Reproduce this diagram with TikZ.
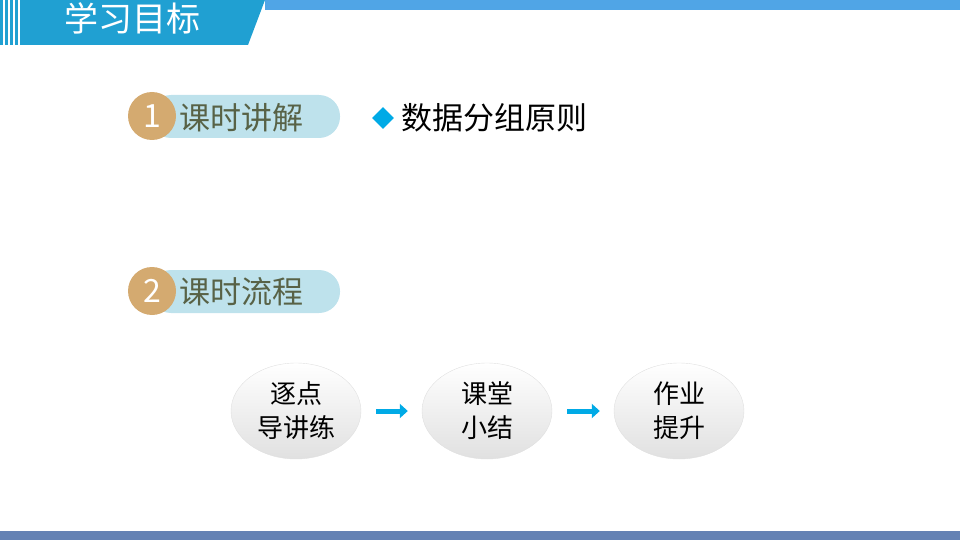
\documentclass[tikz,border=0pt]{standalone}
\usepackage{fontspec}
\setmainfont{Noto Sans CJK SC}
\usetikzlibrary{arrows.meta,shapes.geometric}
\definecolor{headblue}{RGB}{32,160,210}
\definecolor{bandblue}{RGB}{80,165,230}
\definecolor{badgetan}{RGB}{212,170,112}
\definecolor{pillblue}{RGB}{190,226,236}
\definecolor{olivetext}{RGB}{88,98,70}
\definecolor{diablue}{RGB}{0,170,230}
\definecolor{footblue}{RGB}{100,130,180}
\tikzset{
  badge/.style={circle,fill=badgetan,minimum size=48pt,inner sep=0,text=white,font=\fontsize{32}{32}\selectfont},
  pilltext/.style={text=olivetext,font=\fontsize{31}{31}\selectfont},
  stepnode/.style={ellipse,minimum width=130pt,minimum height=96pt,draw=black!12,
    top color=white,bottom color=black!12,font=\fontsize{26}{34}\selectfont,align=center,inner sep=0},
  flowarrow/.style={-{Triangle[length=8pt,width=14pt]},line width=5pt,draw=diablue}
}
\begin{document}
\begin{tikzpicture}[x=1pt,y=-1pt]
\useasboundingbox (0,0) rectangle (960,540);
% header
\fill[bandblue] (265,0) rectangle (960,10);
\fill[headblue] (0,0) -- (265,0) -- (248,45) -- (0,45) -- cycle;
\foreach \xs in {3,8,13,18} \fill[white] (\xs,0) rectangle ++(1.5,45);
\node[text=white,font=\fontsize{34}{34}\selectfont] (title) at (132,18) {学习目标};
% part 1
\fill[pillblue,rounded corners=21pt] (150,95) rectangle (340,138);
\node[badge] (b1) at (152,116) {1};
\node[pilltext,anchor=west] (p1) at (176,118) {课时讲解};
\node[diamond,fill=diablue,minimum size=22pt,inner sep=0] (dia) at (383,118) {};
\node[anchor=west,font=\fontsize{31}{31}\selectfont] (goal) at (398,118) {数据分组原则};
% part 2
\fill[pillblue,rounded corners=21pt] (150,270) rectangle (340,313);
\node[badge] (b2) at (152,291) {2};
\node[pilltext,anchor=west] (p2) at (176,292) {课时流程};
% flow
\node[stepnode] (s1) at (296,411) {逐点\\导讲练};
\node[stepnode] (s2) at (487,411) {课堂\\小结};
\node[stepnode] (s3) at (679,411) {作业\\提升};
\draw[flowarrow] ([xshift=15pt]s1.east) -- ([xshift=-14pt]s2.west);
\draw[flowarrow] ([xshift=15pt]s2.east) -- ([xshift=-14pt]s3.west);
% footer
\fill[footblue] (0,531) rectangle (960,540);
\end{tikzpicture}
\end{document}
